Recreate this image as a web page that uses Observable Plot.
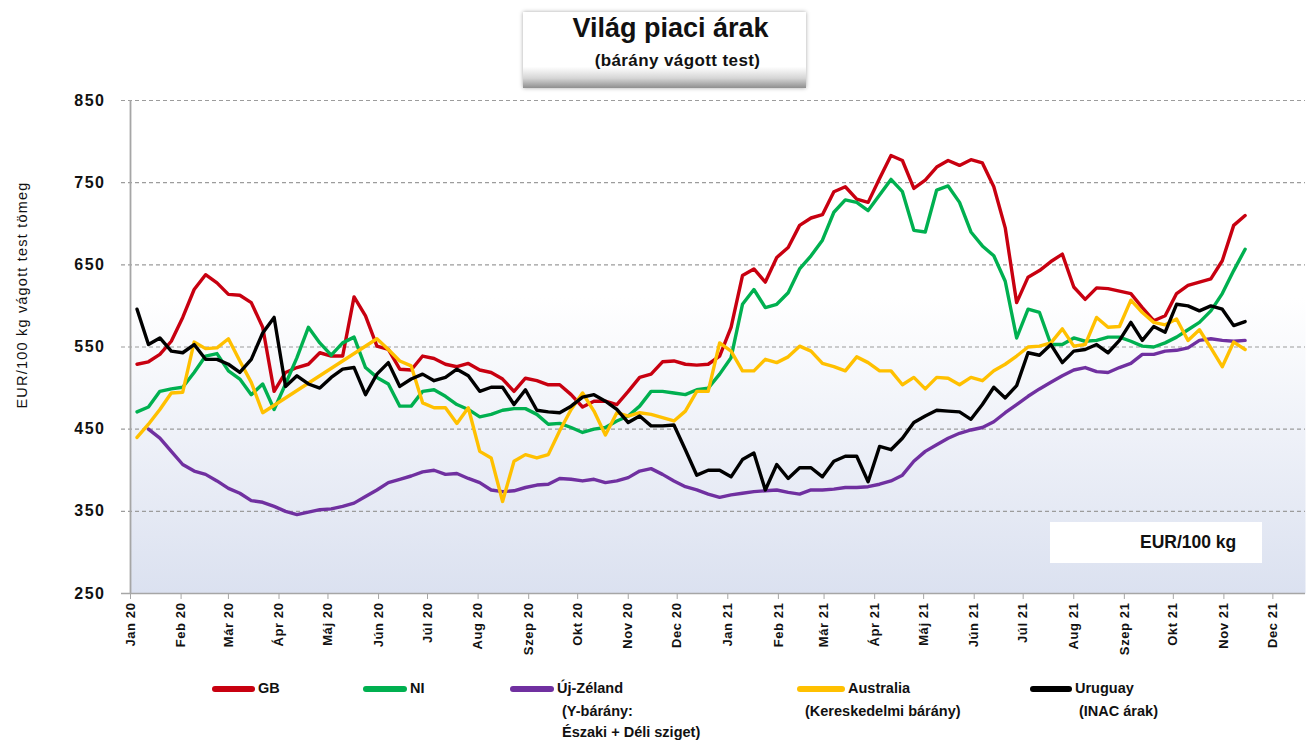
<!DOCTYPE html>
<html><head><meta charset="utf-8">
<script src="https://cdn.jsdelivr.net/npm/d3@7"></script>
<script src="https://cdn.jsdelivr.net/npm/@observablehq/plot@0.6"></script>
<style>
body{margin:0;background:#fff;font-family:"Liberation Sans",Arial,sans-serif;}
#wrap{position:relative;width:1307px;height:742px;overflow:hidden;background:#fff;}
#chart{position:absolute;left:0;top:0;}
#titlebox{position:absolute;left:523px;top:12px;width:283px;height:76px;text-align:center;
 background:linear-gradient(to bottom,#ffffff 0%,#ffffff 72%,#d6d6d6 87%,#8f8f8f 100%);
 box-shadow:0 0 4px rgba(0,0,0,0.35);}
#titlebox .t1{font-weight:bold;font-size:27px;margin-top:1px;line-height:30px;color:#111;padding-left:12px;}
#titlebox .t2{font-weight:bold;font-size:17px;margin-top:8px;line-height:20px;color:#111;padding-left:26px;letter-spacing:0.4px;}
#ylab{position:absolute;left:22px;top:295px;transform:translate(-50%,-50%) rotate(-90deg);white-space:nowrap;font-size:14.5px;letter-spacing:1.2px;color:#111;}
#unitbox{position:absolute;left:1050px;top:522px;width:212px;height:41px;background:#fff;}
#unitbox span{position:absolute;left:90px;top:10px;font-weight:bold;font-size:17.5px;color:#111;}
.lg{position:absolute;font-weight:bold;font-size:14.5px;color:#111;white-space:nowrap;line-height:21px;}
.sw{position:absolute;height:6px;border-radius:3px;}
</style></head><body>
<div id="wrap">
 <div id="chart"></div>
 <div id="titlebox"><div class="t1">Világ piaci árak</div><div class="t2">(bárány vágott test)</div></div>
 <div id="ylab">EUR/100 kg vágott test tömeg</div>
 <div id="unitbox"><span>EUR/100 kg</span></div>
 <div id="legend"></div>
</div>
<script>
// weekly observations, first week starting 2020-01-05
const startDate = "2020-01-05";
const seriesNames = ["GB", "NI", "Új-Zéland", "Australia", "Uruguay"];
const seriesSub = ["", "", "(Y-bárány:\nÉszaki + Déli sziget)", "(Kereskedelmi bárány)", "(INAC árak)"];
const seriesColors = ["#c80010", "#00b050", "#7030a0", "#ffc000", "#000000"];
const monthNames = ["Jan","Feb","Már","Ápr","Máj","Jún","Júl","Aug","Szep","Okt","Nov","Dec"];
const yTicks = [250, 350, 450, 550, 650, 750, 850];

const gb = [529,532,541,557,586,620,638,628,614,613,604,574,496,519,525,529,543,539,539,611,588,551,547,523,522,
 539,536,529,526,530,522,519,511,496,512,509,504,504,492,477,484,484,480,496,513,517,532,533,529,
 528,529,539,574,637,645,629,659,671,698,707,711,739,745,730,726,755,783,777,743,753,769,777,771,778,
 774,745,695,604,635,643,654,663,623,608,622,621,618,615,598,582,588,615,625,629,633,655,698,710];
const ni = [471,477,496,499,501,519,539,542,521,511,492,505,474,505,537,574,555,540,555,562,525,513,505,478,478,
 496,498,490,480,474,465,468,473,475,475,468,456,457,452,446,450,452,460,466,478,496,496,494,492,
 498,500,517,537,602,620,598,602,616,645,661,680,714,729,726,716,735,754,739,692,690,741,746,726,690,
 673,661,630,561,596,592,553,553,561,557,558,562,562,557,551,550,555,562,571,580,594,615,643,669];
const nz = [null,450,439,423,407,399,395,387,378,372,363,361,356,350,346,349,352,353,356,360,368,376,385,389,393,
 398,400,395,396,390,385,376,374,375,379,382,383,390,389,387,389,385,387,391,399,402,395,387,380,
 376,371,367,370,372,374,375,376,373,371,376,376,377,379,379,380,383,387,394,411,423,431,439,445,449,
 452,459,470,480,490,499,507,515,522,525,520,519,525,530,541,541,545,546,549,558,560,558,557,558];
const au = [440,456,474,494,495,556,548,549,560,533,507,470,null,null,null,null,null,null,null,null,null,560,547,533,527,
 482,476,476,457,476,423,415,362,411,419,415,419,448,474,494,472,443,470,466,470,468,464,460,472,
 496,496,555,545,521,521,535,531,538,551,545,530,526,521,538,531,521,521,504,513,499,513,512,504,513,
 509,521,529,539,550,551,555,572,551,553,586,574,575,607,592,580,577,584,558,571,549,526,556,547];
const uy = [596,553,561,545,543,553,535,535,529,519,535,567,586,502,515,505,500,513,523,525,492,517,531,502,511,
 517,509,513,523,515,496,501,501,480,498,473,471,470,478,489,492,484,474,458,466,454,454,455,425,
 394,400,400,392,413,421,376,407,390,403,403,392,411,417,417,386,429,425,439,458,466,473,472,471,462,
 480,501,488,503,543,540,553,531,545,547,553,543,558,580,558,575,568,602,600,594,600,596,576,581];

const allValues = [gb, ni, nz, au, uy];
const t0 = new Date(startDate + "T00:00:00Z");
const rows = [];
allValues.forEach((arr, s) => arr.forEach((v, i) => {
  if (v != null) rows.push({series: seriesNames[s], date: d3.utcDay.offset(t0, 7 * i), value: v});
}));

const xStart = new Date(Date.UTC(2020, 0, 1));
const xEnd = new Date(Date.UTC(2021, 11, 21));
const monthTicks = d3.utcMonth.range(xStart, new Date(Date.UTC(2021, 11, 2)));
const fmt = d => monthNames[d.getUTCMonth()] + " " + String(d.getUTCFullYear()).slice(2);

const plot = Plot.plot({
  width: 1307, height: 665,
  marginTop: 100, marginBottom: 72, marginLeft: 130, marginRight: 2,
  style: {fontFamily: '"Liberation Sans",Arial,sans-serif', fontWeight: "bold", background: "transparent", color: "#111"},
  x: {type: "utc", domain: [xStart, xEnd]},
  y: {type: "linear", domain: [250, 850]},
  color: {domain: seriesNames, range: seriesColors},
  marks: [
    Plot.frame({fill: "url(#bgGrad)", stroke: null}),
    Plot.ruleY(yTicks.filter(d => d > 250), {y: d => d, stroke: "#9c9c9c", strokeWidth: 1.2, strokeDasharray: "4,3", insetLeft: -9}),
    Plot.ruleY([250], {y: d => d, stroke: "#a6a6a6", strokeWidth: 1.5, insetLeft: -9}),
    Plot.ruleX([xStart], {x: d => d, stroke: "#a6a6a6", strokeWidth: 1.8}),
    Plot.line(rows, {x: "date", y: "value", z: "series", stroke: "series", strokeWidth: 3.4, strokeLinejoin: "round"}),
    Plot.axisY({ticks: yTicks, tickSize: 0, tickPadding: 25, fontSize: 16, letterSpacing: 1, label: null}),
    Plot.axisX({ticks: monthTicks, tickFormat: fmt, tickRotate: -90, tickSize: 6, tickPadding: 3, fontSize: 13, letterSpacing: 0.6, label: null, stroke: "#a6a6a6"})
  ]
});
const svg = d3.select(plot);
svg.selectAll("[aria-label='y-axis tick label'] text, [aria-label='y-axis tick label']").style("letter-spacing", "1.5px");
svg.selectAll("[aria-label='x-axis tick label']").style("letter-spacing", "0.6px");
const grad = svg.insert("defs", ":first-child").append("linearGradient")
  .attr("id", "bgGrad").attr("x1", 0).attr("y1", 0).attr("x2", 0).attr("y2", 1);
grad.append("stop").attr("offset", "0").attr("stop-color", "#ffffff");
grad.append("stop").attr("offset", "0.4").attr("stop-color", "#ffffff");
grad.append("stop").attr("offset", "1").attr("stop-color", "#dbe1f0");
document.getElementById("chart").appendChild(plot);

// legend
const lgPos = [{sx: 212, tx: 258}, {sx: 363, tx: 410}, {sx: 510, tx: 557}, {sx: 797, tx: 848}, {sx: 1030, tx: 1075}];
const subPos = [null, null, 562, 805, 1079];
const legend = document.getElementById("legend");
seriesNames.forEach((name, i) => {
  const sw = document.createElement("div");
  sw.className = "sw";
  sw.style.left = lgPos[i].sx + "px"; sw.style.top = "686px";
  sw.style.width = (lgPos[i].tx - lgPos[i].sx - 3) + "px";
  sw.style.background = seriesColors[i];
  legend.appendChild(sw);
  const t = document.createElement("div");
  t.className = "lg"; t.textContent = name;
  t.style.left = lgPos[i].tx + "px"; t.style.top = "678px";
  legend.appendChild(t);
  if (seriesSub[i]) {
    seriesSub[i].split("\n").forEach((line, k) => {
      const s = document.createElement("div");
      s.className = "lg"; s.textContent = line;
      s.style.left = subPos[i] + "px"; s.style.top = (701 + 21 * k) + "px";
      legend.appendChild(s);
    });
  }
});
</script>
</body></html>
